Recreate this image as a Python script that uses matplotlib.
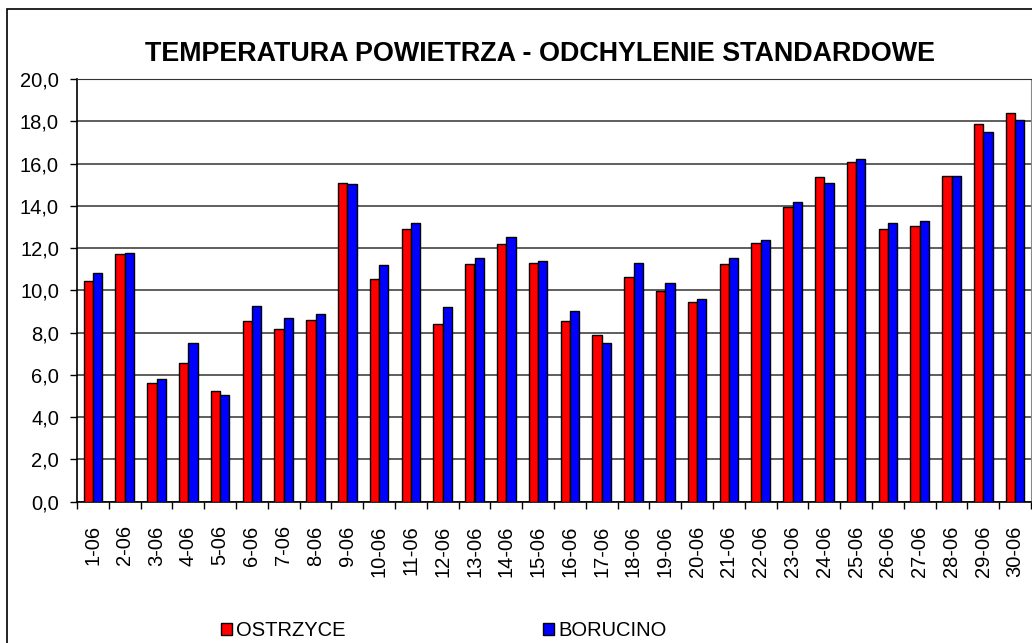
import numpy as np
import matplotlib.pyplot as plt
from matplotlib.patches import Rectangle

plt.rcParams['font.family'] = ['Liberation Sans', 'DejaVu Sans']

#%% data
days = [f'{d}-06' for d in range(1, 31)]
ostrzyce = [10.46, 11.72, 5.63, 6.56, 5.24, 8.54, 8.15, 8.62, 15.10, 10.52,
            12.90, 8.42, 11.26, 12.18, 11.31, 8.54, 7.87, 10.65, 9.99, 9.47,
            11.26, 12.24, 13.95, 15.36, 16.09, 12.92, 13.04, 15.42, 17.87, 18.39]
borucino = [10.81, 11.78, 5.82, 7.49, 5.05, 9.27, 8.67, 8.87, 15.04, 11.18,
            13.17, 9.20, 11.51, 12.51, 11.37, 9.01, 7.49, 11.31, 10.34, 9.60,
            11.51, 12.38, 14.16, 15.09, 16.21, 13.19, 13.29, 15.42, 17.48, 18.06]
yticks = np.arange(0, 20.1, 2)

#%% plot
W, H = 1032, 643
fig = plt.figure(figsize=(W / 100, H / 100), dpi=100)
ax = fig.add_axes([77 / W, 1 - 501.7 / H, (1031 - 77) / W, (501.7 - 79) / H])

x = np.arange(len(days))
bw = 0.295
ax.bar(x - bw / 2, ostrzyce, bw, color='#ff0000', edgecolor='black', linewidth=1,
       label='OSTRZYCE', zorder=3)
ax.bar(x + bw / 2, borucino, bw, color='#0000ff', edgecolor='black', linewidth=1,
       label='BORUCINO', zorder=3)

ax.set_xlim(-0.5, len(days) - 0.5)
ax.set_ylim(0, 20)
ax.set_yticks(yticks)
ax.set_yticklabels([f'{v:.1f}'.replace('.', ',') for v in yticks], fontsize=14.5)
ax.set_xticks(x)
ax.set_xticklabels(days, rotation=90, fontsize=14.5)
ax.tick_params(axis='x', length=0, pad=17)
ax.set_xticks(np.arange(-0.5, len(days)), minor=True)
ax.tick_params(axis='x', which='minor', length=5, width=1, direction='out')
ax.tick_params(axis='y', length=5, width=1, direction='out', pad=8)
ax.grid(axis='y', color='#333333', linewidth=1.1, zorder=0)

for s in ['left', 'bottom']:
    ax.spines[s].set_linewidth(1.2)
ax.spines['top'].set_color('#333333')
ax.spines['right'].set_color('#888888')

fig.text(540 / W, 1 - 54 / H, 'TEMPERATURA POWIETRZA - ODCHYLENIE STANDARDOWE',
         ha='center', va='center', fontsize=19.4, fontweight='bold')

# outer chart frame
fig.patches.append(Rectangle((7 / W, -0.1), 1.2, 1.1 - 9 / H, transform=fig.transFigure,
                             fill=False, edgecolor='black', linewidth=1.2))

fig.legend(loc='center', bbox_to_anchor=(444 / W, 1 - 631 / H), ncol=2, frameon=False,
           fontsize=14.5, handlelength=0.55, handleheight=0.55, handletextpad=0.2,
           columnspacing=9.8)

fig.savefig('out.png', dpi=100)
